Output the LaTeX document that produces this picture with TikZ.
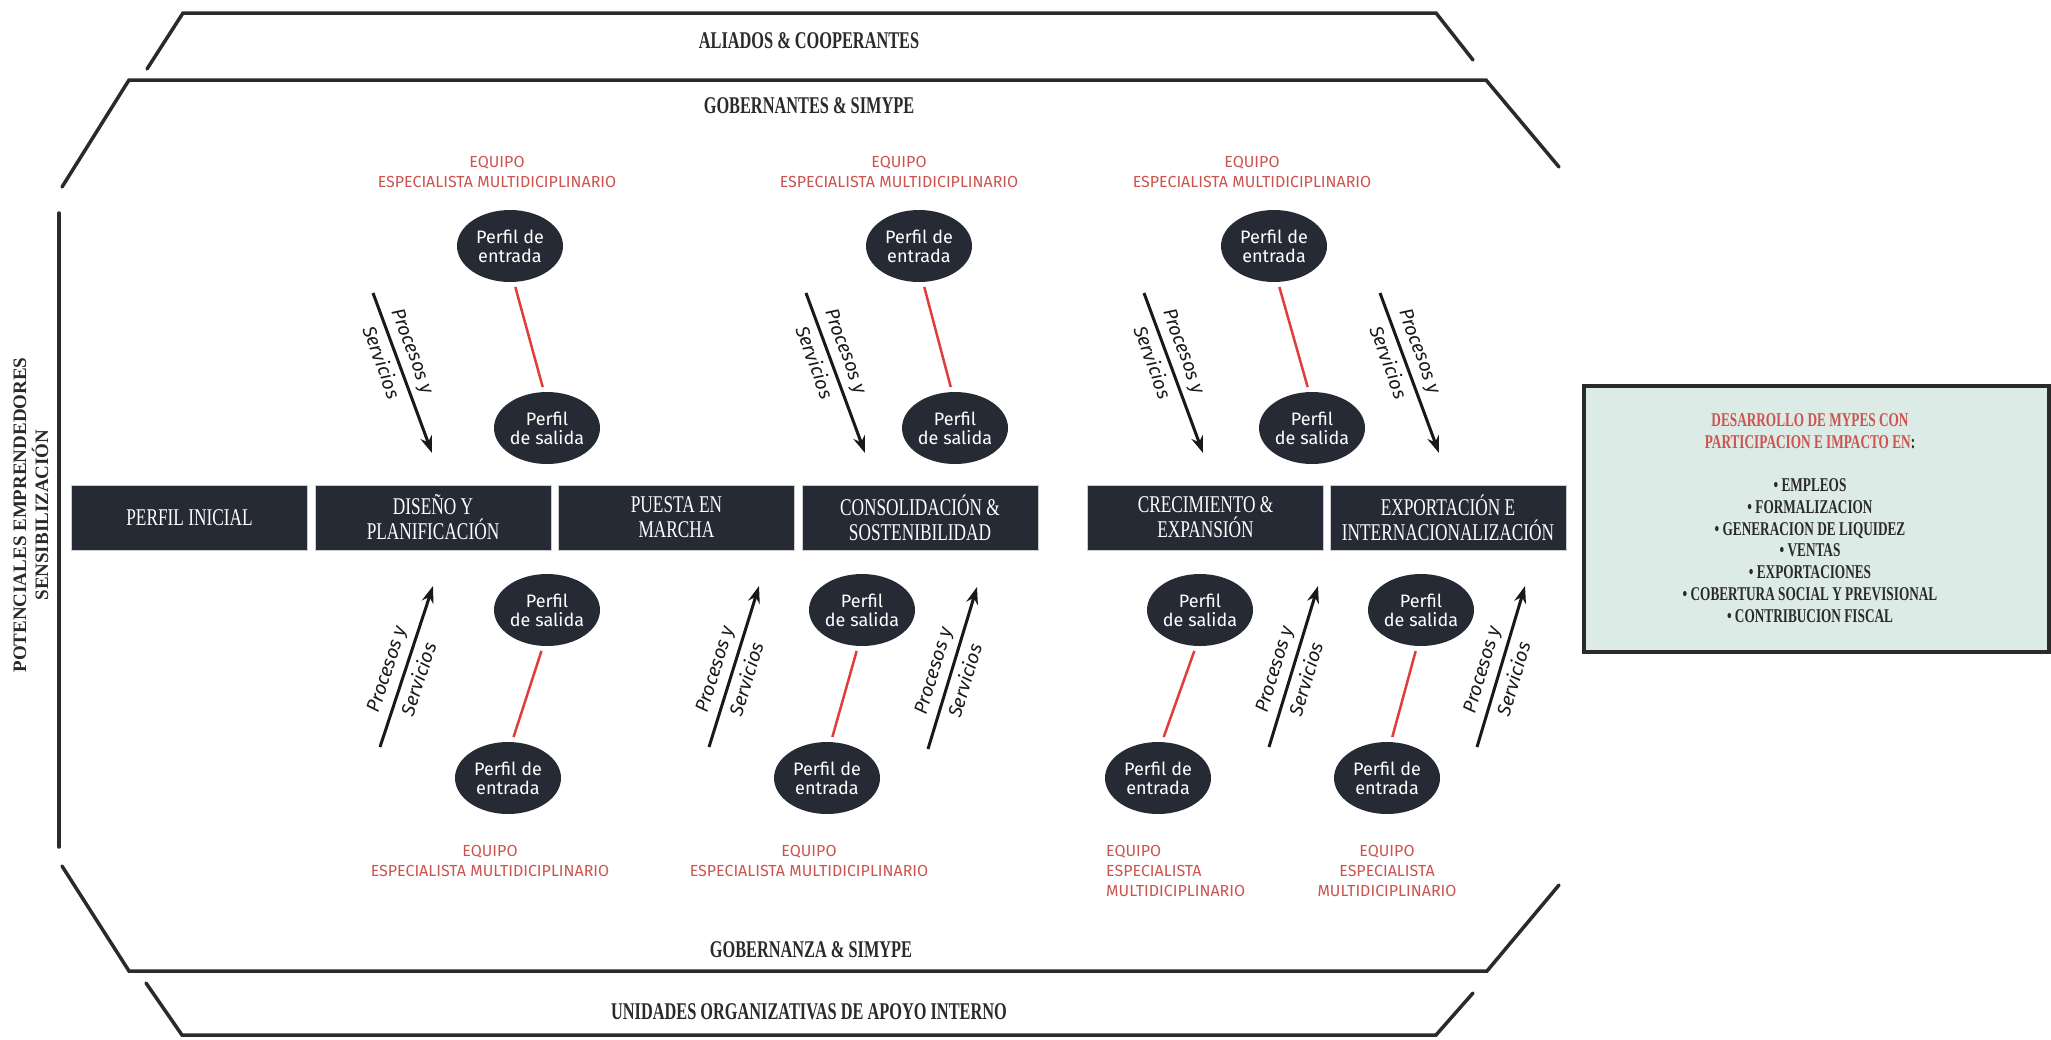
\documentclass[tikz,border=0pt]{standalone}
\usepackage{fontspec}
\setmainfont{Liberation Serif}
\newfontfamily\ttlfont{Liberation Serif}[FakeStretch=0.68]
\newfontfamily\boxfont{Liberation Serif}[FakeStretch=0.72]
\newfontfamily\rbfont{Liberation Serif}[FakeStretch=0.68]
\newfontfamily\fira{Fira Sans}
\usetikzlibrary{shapes.geometric,arrows.meta}
\definecolor{navy}{HTML}{252A34}
\definecolor{redt}{HTML}{CC5450}
\definecolor{redl}{HTML}{E03C3C}
\definecolor{framec}{HTML}{2A2A2A}
\definecolor{mint}{HTML}{DCEBE6}
\tikzset{
  frame/.style={draw=framec, line width=3.5, line cap=round, line join=miter},
  ttl/.style={font=\ttlfont\bfseries\fontsize{24}{26}\selectfont, text=framec, inner sep=0},
  stage/.style={fill=navy, draw=black!20, line width=0.8, minimum width=236, minimum height=65, inner sep=0,
     text=white, align=center, font=\boxfont\fontsize{24}{25}\selectfont},
  perfil/.style={ellipse, fill=navy, text=white, minimum width=106, minimum height=72, inner sep=0,
     align=center, font=\fira\fontsize{18}{19}\selectfont},
  equipo/.style={text=redt, align=center, inner sep=0, font=\fira\fontsize{16}{20}\selectfont},
  redline/.style={draw=redl, line width=2.5, shorten <=5, shorten >=5},
  arr/.style={draw=black!90, line width=3, -{Stealth[length=17,width=12]}},
  lab/.style={font=\fira\itshape\fontsize{19}{20}\selectfont, text=black!90, sloped, inner sep=6},
}
\begin{document}
\begin{tikzpicture}[x=1pt,y=-1pt]
\useasboundingbox (0,0) rectangle (2051,1039);
\fill[white] (0,0) rectangle (2051,1039);

% frame bands
\draw[frame] (147,69) -- (183,13) -- (1436,13) -- (1473,60);
\draw[frame] (62,187) -- (129,80) -- (1486,80) -- (1559,167);
\draw[frame] (59,213) -- (59,847);
\draw[frame] (62,866) -- (129,971) -- (1487,971) -- (1559,885);
\draw[frame] (146,983) -- (182,1035) -- (1436,1035) -- (1473,993);

\node[ttl] (aliados) at (809,41) {ALIADOS \& COOPERANTES};
\node[ttl] (gobt) at (809,106) {GOBERNANTES \& SIMYPE};
\node[ttl] (gobz) at (811,950) {GOBERNANZA \& SIMYPE};
\node[ttl] (unid) at (809,1012) {UNIDADES ORGANIZATIVAS DE APOYO INTERNO};

\node[rotate=90, align=center, inner sep=0, text=framec,
      font=\bfseries\fontsize{19}{22}\selectfont] (pot) at (31,515)
      {POTENCIALES EMPRENDEDORES\\SENSIBILIZACIÓN};

% stages
\node[stage] (s0) at (189.5,517.5) {PERFIL INICIAL};
\node[stage] (s1) at (433,517.5) {DISEÑO Y\\PLANIFICACIÓN};
\node[stage] (s2) at (676.5,517.5) {PUESTA EN\\MARCHA};
\node[stage] (s3) at (920,517.5) {CONSOLIDACIÓN \&\\SOSTENIBILIDAD};
\node[stage] (s4) at (1205.5,517.5) {CRECIMIENTO \&\\EXPANSIÓN};
\node[stage] (s5) at (1448,517.5) {EXPORTACIÓN E\\INTERNACIONALIZACIÓN};

% top teams
\node[equipo] (eqt1) at (497,172) {EQUIPO\\ESPECIALISTA MULTIDICIPLINARIO};
\node[equipo] (eqt2) at (899,172) {EQUIPO\\ESPECIALISTA MULTIDICIPLINARIO};
\node[equipo] (eqt3) at (1252,172) {EQUIPO\\ESPECIALISTA MULTIDICIPLINARIO};

% top profiles
\node[perfil] (te1) at (510,246) {Perfil de\\entrada};
\node[perfil] (ts1) at (547,428) {Perfil\\de salida};
\node[perfil] (te2) at (919,246) {Perfil de\\entrada};
\node[perfil] (ts2) at (955,428) {Perfil\\de salida};
\node[perfil] (te3) at (1274,246) {Perfil de\\entrada};
\node[perfil] (ts3) at (1312,428) {Perfil\\de salida};
\draw[redline] ([xshift=4]te1.south) -- ([xshift=-3]ts1.north);
\draw[redline] ([xshift=4]te2.south) -- ([xshift=-3]ts2.north);
\draw[redline] ([xshift=4]te3.south) -- ([xshift=-3]ts3.north);

% bottom profiles
\node[perfil] (bs1) at (547,610) {Perfil\\de salida};
\node[perfil] (be1) at (508,778) {Perfil de\\entrada};
\node[perfil] (bs2) at (862,610) {Perfil\\de salida};
\node[perfil] (be2) at (827,778) {Perfil de\\entrada};
\node[perfil] (bs4) at (1200,610) {Perfil\\de salida};
\node[perfil] (be4) at (1158,778) {Perfil de\\entrada};
\node[perfil] (bs5) at (1421,610) {Perfil\\de salida};
\node[perfil] (be5) at (1387,778) {Perfil de\\entrada};
\draw[redline] ([xshift=-4]bs1.south) -- ([xshift=4]be1.north);
\draw[redline] ([xshift=-4]bs2.south) -- ([xshift=4]be2.north);
\draw[redline] ([xshift=-4]bs4.south) -- ([xshift=4]be4.north);
\draw[redline] ([xshift=-4]bs5.south) -- ([xshift=4]be5.north);

% bottom teams
\node[equipo] (eqb1) at (490,861) {EQUIPO\\ESPECIALISTA MULTIDICIPLINARIO};
\node[equipo] (eqb2) at (809,861) {EQUIPO\\ESPECIALISTA MULTIDICIPLINARIO};
\node[equipo, anchor=west, align=left] (eqb4) at (1106,871) {EQUIPO\\ESPECIALISTA\\MULTIDICIPLINARIO};
\node[equipo] (eqb5) at (1387,871) {EQUIPO\\ESPECIALISTA\\MULTIDICIPLINARIO};

% arrows top
\coordinate (t1a) at (373,293); \coordinate (t1b) at (432,453);
\coordinate (t2a) at (806,293); \coordinate (t2b) at (865,453);
\coordinate (t3a) at (1144,293); \coordinate (t3b) at (1203,453);
\coordinate (t4a) at (1380,293); \coordinate (t4b) at (1439,453);
\foreach \n in {t1,t2,t3,t4}{
  \draw[arr] (\n a) -- node[lab, pos=0.4, above] {Procesos y} node[lab, pos=0.4, below] {Servicios} (\n b);
}
% arrows bottom
\coordinate (b1a) at (380,747); \coordinate (b1b) at (433,586);
\coordinate (b2a) at (709,747); \coordinate (b2b) at (759,586);
\coordinate (b3a) at (928,749); \coordinate (b3b) at (977,587);
\coordinate (b4a) at (1269,747); \coordinate (b4b) at (1318,586);
\coordinate (b5a) at (1477,747); \coordinate (b5b) at (1525,586);
\foreach \n in {b1,b2,b3,b4,b5}{
  \draw[arr] (\n a) -- node[lab, pos=0.45, above] {Procesos y} node[lab, pos=0.45, below] {Servicios} (\n b);
}

% result box
\node[draw=framec, line width=4, fill=mint, minimum width=465, minimum height=266, inner sep=0] (res) at (1816,518.5) {};
\node[align=center, inner sep=0, text=framec, font=\rbfont\bfseries\fontsize{19.5}{21.7}\selectfont] (restxt) at (1810,518)
 {{\color{redt}DESARROLLO DE MYPES CON}\\{\color{redt}PARTICIPACION E IMPACTO EN}:\\[21.7pt]
  • EMPLEOS\\• FORMALIZACION\\• GENERACION DE LIQUIDEZ\\• VENTAS\\• EXPORTACIONES\\• COBERTURA SOCIAL Y PREVISIONAL\\• CONTRIBUCION FISCAL};
\end{tikzpicture}
\end{document}
